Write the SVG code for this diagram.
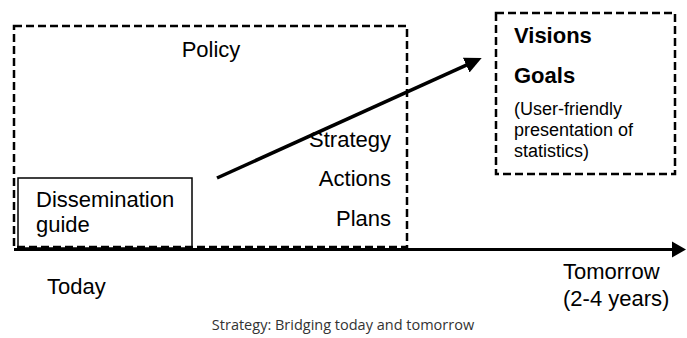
<svg xmlns="http://www.w3.org/2000/svg" width="687" height="338" viewBox="0 0 687 338">
<style>
.t{font-family:"Liberation Sans",Arial,sans-serif;font-size:22px;fill:#000}
.b{font-weight:bold}
.s{font-size:18px}
.dash{fill:none;stroke:#000;stroke-width:2.5;stroke-dasharray:8 4}
.cap{font-family:"Open Sans","Noto Sans",sans-serif;font-size:14.5px;fill:#333}
</style>
<defs>
<marker id="ah" markerUnits="userSpaceOnUse" markerWidth="18" markerHeight="18" viewBox="0 0 18 18" refX="2" refY="9" orient="auto">
<path d="M0,1 L17,9 L0,17 Z" fill="#000"/>
</marker>
<marker id="ah2" markerUnits="userSpaceOnUse" markerWidth="16" markerHeight="18" viewBox="0 0 16 18" refX="1" refY="9" orient="auto">
<path d="M0,1 L14,9 L0,17 Z" fill="#000"/>
</marker>
</defs>
<rect width="687" height="338" fill="#fff"/>
<g id="policy">
<rect class="dash" x="14" y="26" width="393" height="221"/>
<text class="t" x="211" y="57" text-anchor="middle">Policy</text>
<text class="t" x="391" y="147" text-anchor="end">Strategy</text>
<text class="t" x="391" y="186" text-anchor="end">Actions</text>
<text class="t" x="391" y="226" text-anchor="end">Plans</text>
</g>
<g id="dissemination">
<rect x="18" y="178" width="174" height="70" fill="none" stroke="#000" stroke-width="1.5"/>
<text class="t" x="36" y="207">Dissemination</text>
<text class="t" x="36" y="232">guide</text>
</g>
<g id="visions">
<rect class="dash" x="496" y="13" width="179" height="161"/>
<text class="t b" x="514" y="43">Visions</text>
<text class="t b" x="514" y="83">Goals</text>
<text class="t s" x="514" y="115">(User-friendly</text>
<text class="t s" x="514" y="136">presentation of</text>
<text class="t s" x="514" y="157">statistics)</text>
</g>
<g id="connectors">
<line x1="217" y1="178" x2="468" y2="64.3" stroke="#000" stroke-width="3.5" marker-end="url(#ah)"/>
<line x1="14" y1="249.5" x2="673" y2="249.5" stroke="#000" stroke-width="3" marker-end="url(#ah2)"/>
</g>
<g id="labels">
<text class="t" x="47" y="294">Today</text>
<text class="t" x="563" y="279">Tomorrow</text>
<text class="t" x="563" y="306">(2-4 years)</text>
<text class="cap" x="343" y="330" text-anchor="middle">Strategy: Bridging today and tomorrow</text>
</g>
</svg>
